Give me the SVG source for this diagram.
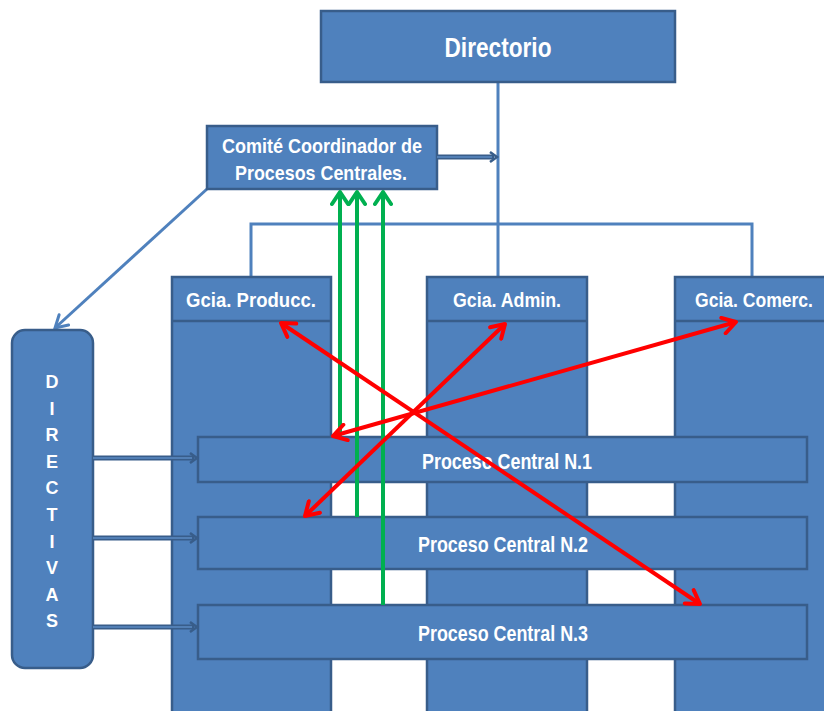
<svg xmlns="http://www.w3.org/2000/svg" width="824" height="711" viewBox="0 0 824 711">
<style>
.box{fill:#4f81bd;stroke:#385d8a;stroke-width:2.5}
.t{font-family:"Liberation Sans Narrow","Liberation Sans",Arial,sans-serif;font-weight:bold;fill:#fff;text-anchor:middle}
.blue{stroke:#4f81bd;stroke-width:3;fill:none}
.dbl{stroke:#385d8a;stroke-width:5;fill:none}
.dbli{stroke:#5b8ac4;stroke-width:1.5;fill:none}
.red{stroke:#ff0000;stroke-width:4;fill:none}
.green{stroke:#00b050;stroke-width:4;fill:none}
</style>
<defs>
<marker id="mr" viewBox="0 0 20 20" refX="17" refY="10" markerWidth="20" markerHeight="20" markerUnits="userSpaceOnUse" orient="auto-start-reverse">
<path d="M4,2 L17,10 L4,18" fill="none" stroke="#ff0000" stroke-width="4" stroke-linecap="round" stroke-linejoin="round"/>
</marker>
<marker id="mg" viewBox="0 0 20 20" refX="17" refY="10" markerWidth="20" markerHeight="20" markerUnits="userSpaceOnUse" orient="auto">
<path d="M5,2 L17,10 L5,18" fill="none" stroke="#00b050" stroke-width="4" stroke-linecap="round" stroke-linejoin="round"/>
</marker>
<marker id="mb" viewBox="0 0 20 20" refX="17" refY="10" markerWidth="20" markerHeight="20" markerUnits="userSpaceOnUse" orient="auto">
<path d="M5,3 L17,10 L5,17" fill="none" stroke="#4f81bd" stroke-width="3" stroke-linecap="round"/>
</marker>
</defs>

<g id="connectors-tree">
<path class="blue" d="M498,82 V277 M251,277 V224 H752 V277"/>
<path class="blue" d="M207,189 L55,328" marker-end="url(#mb)"/>
</g>

<g id="directorio">
<rect class="box" x="321" y="11" width="354" height="71"/>
<text class="t" x="498" y="57" font-size="27" textLength="107" lengthAdjust="spacingAndGlyphs">Directorio</text>
</g>

<g id="comite">
<rect class="box" x="207" y="126" width="230" height="63"/>
<text class="t" x="322" y="153" font-size="21" textLength="200" lengthAdjust="spacingAndGlyphs">Comité Coordinador de</text>
<text class="t" x="321" y="180" font-size="21" textLength="172" lengthAdjust="spacingAndGlyphs">Procesos Centrales.</text>
</g>

<g id="gcia-producc">
<rect class="box" x="172" y="277" width="159" height="440"/>
<line x1="172" y1="321" x2="331" y2="321" stroke="#385d8a" stroke-width="2.5"/>
<text class="t" x="251" y="307" font-size="21" textLength="130" lengthAdjust="spacingAndGlyphs">Gcia.  Producc.</text>
</g>
<g id="gcia-admin">
<rect class="box" x="427" y="277" width="160" height="440"/>
<line x1="427" y1="321" x2="587" y2="321" stroke="#385d8a" stroke-width="2.5"/>
<text class="t" x="507" y="307" font-size="21" textLength="108" lengthAdjust="spacingAndGlyphs">Gcia. Admin.</text>
</g>
<g id="gcia-comerc">
<rect class="box" x="675" y="277" width="153" height="440"/>
<line x1="675" y1="321" x2="828" y2="321" stroke="#385d8a" stroke-width="2.5"/>
<text class="t" x="754" y="307" font-size="21" textLength="118" lengthAdjust="spacingAndGlyphs">Gcia. Comerc.</text>
</g>

<g id="directivas">
<rect class="box" x="12" y="330" width="81" height="338" rx="13"/>
<g class="t" font-size="18">
<text x="52" y="388">D</text>
<text x="52" y="414.5">I</text>
<text x="52" y="441">R</text>
<text x="52" y="467.5">E</text>
<text x="52" y="494">C</text>
<text x="52" y="521">T</text>
<text x="52" y="547.5">I</text>
<text x="52" y="574">V</text>
<text x="52" y="600.5">A</text>
<text x="52" y="627">S</text>
</g>
</g>

<g id="pc1">
<rect class="box" x="198" y="437" width="609" height="45"/>
<text class="t" x="507" y="469" font-size="22" textLength="170" lengthAdjust="spacingAndGlyphs">Proceso Central N.1</text>
</g>
<g id="pc2">
<rect class="box" x="198" y="517" width="609" height="52"/>
<text class="t" x="503" y="552" font-size="22" textLength="170" lengthAdjust="spacingAndGlyphs">Proceso Central N.2</text>
</g>
<g id="pc3">
<rect class="box" x="198" y="605" width="609" height="54"/>
<text class="t" x="503" y="641" font-size="22" textLength="170" lengthAdjust="spacingAndGlyphs">Proceso Central N.3</text>
</g>

<g id="connectors">
<g id="double-arrows">
<path class="dbl" d="M93,458 H194 M93,538 H194 M93,627 H194 M437,157 H494"/>
<path class="dbli" d="M93,458 H192 M93,538 H192 M93,627 H192 M437,157 H492"/>
<path d="M190,453 L197,458 L190,463 M190,533 L197,538 L190,543 M190,622 L197,627 L190,632 M490,152 L497,157 L490,162" fill="none" stroke="#385d8a" stroke-width="2.5"/>
</g>
<g id="green-arrows">
<path class="green" d="M340,436 V192" marker-end="url(#mg)"/>
<path class="green" d="M357,517 V192" marker-end="url(#mg)"/>
<path class="green" d="M383,605 V192" marker-end="url(#mg)"/>
</g>
<g id="red-arrows">
<path class="red" d="M281,323 L700,604" marker-start="url(#mr)" marker-end="url(#mr)"/>
<path class="red" d="M305,516 L505,324" marker-start="url(#mr)" marker-end="url(#mr)"/>
<path class="red" d="M333,436 L736,322" marker-start="url(#mr)" marker-end="url(#mr)"/>
</g>
</g>
</svg>
